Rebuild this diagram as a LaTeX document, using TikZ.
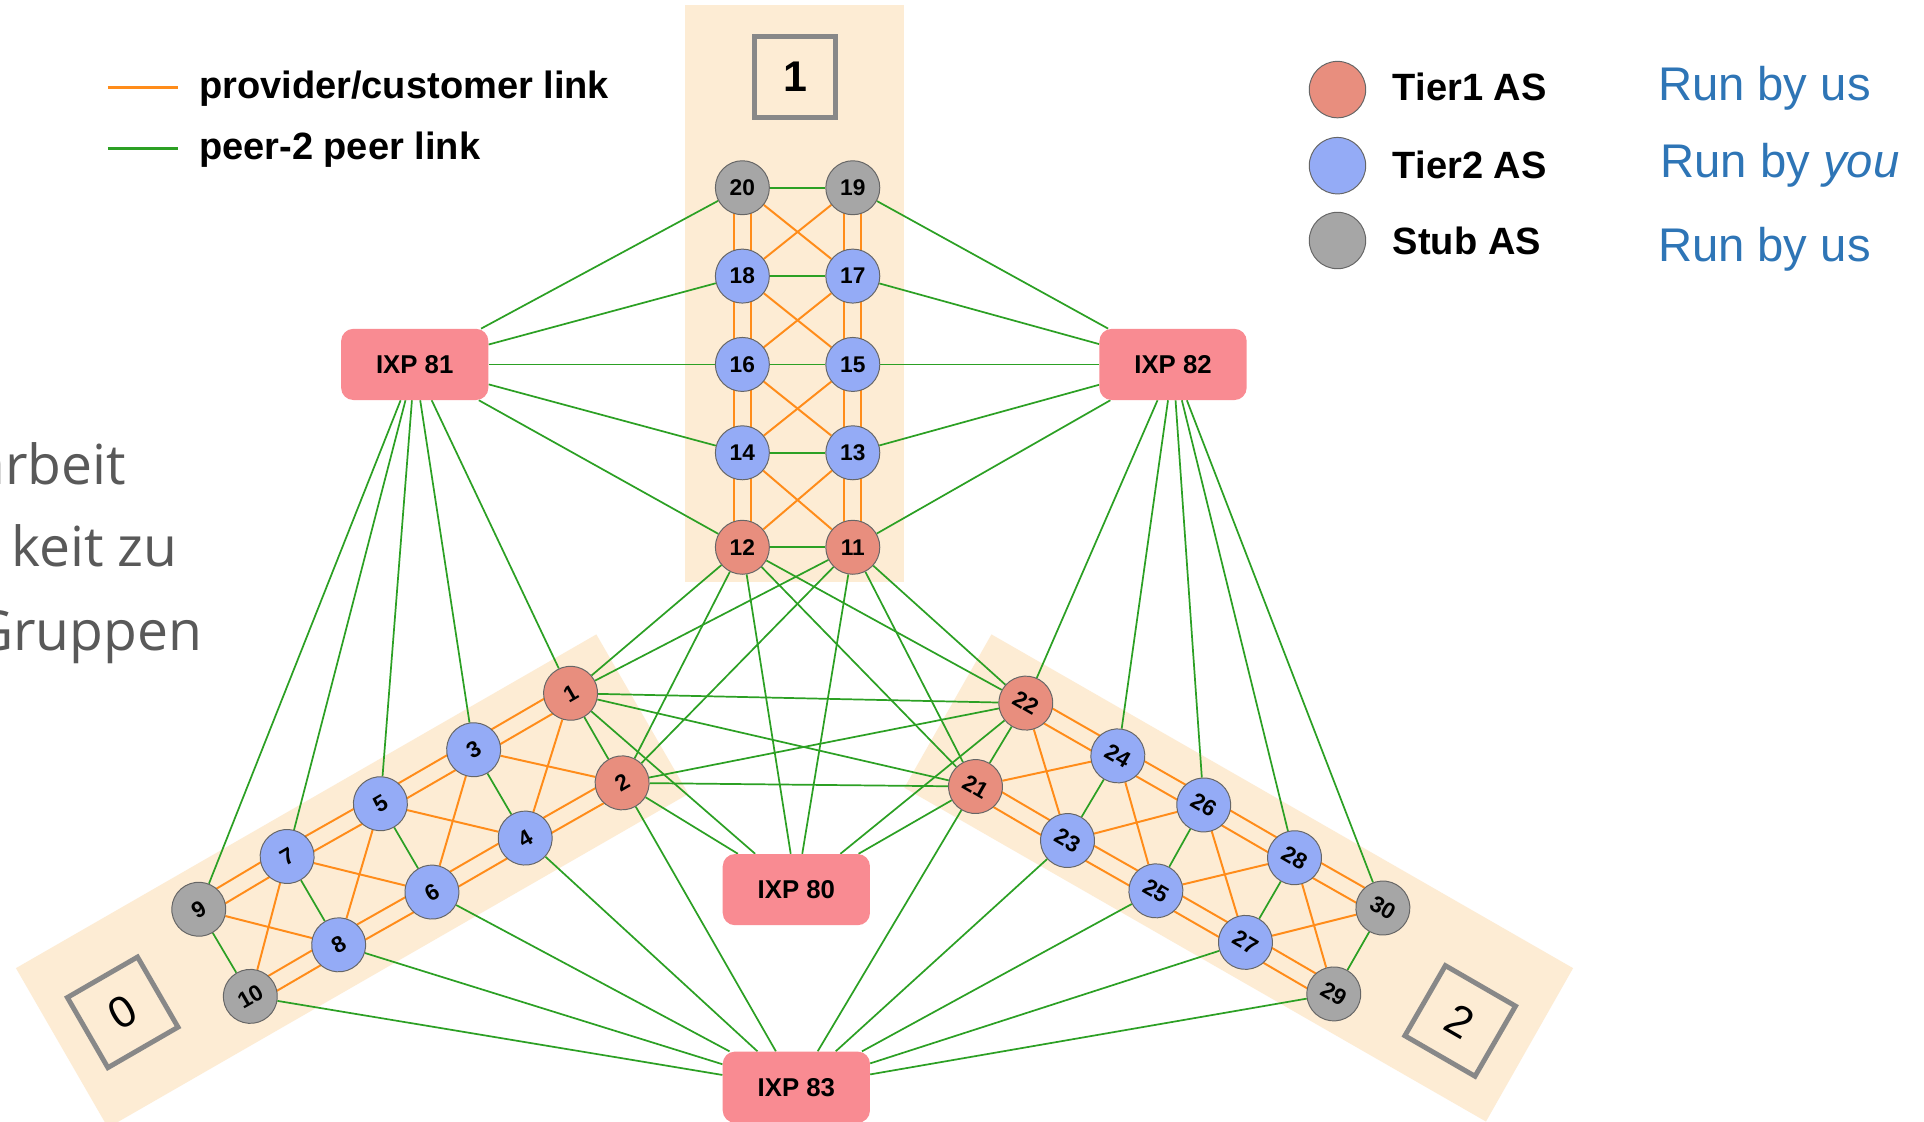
\documentclass[tikz,border=0pt]{standalone}
\usepackage{fontspec}
\setmainfont{Liberation Sans}
\newfontfamily\slidefont{Open Sans}
\usetikzlibrary{calc}
\pgfdeclarelayer{bglayer}
\pgfdeclarelayer{edgelayer}
\pgfsetlayers{bglayer,edgelayer,main}
\definecolor{peach}{RGB}{253,236,212}
\definecolor{tierone}{RGB}{232,142,126}
\definecolor{tiertwo}{RGB}{148,171,246}
\definecolor{stubgrey}{RGB}{166,166,166}
\definecolor{ixppink}{RGB}{249,139,146}
\definecolor{peergreen}{RGB}{44,160,36}
\definecolor{pcorange}{RGB}{255,140,26}
\definecolor{boxgrey}{RGB}{136,136,136}
\definecolor{runblue}{RGB}{46,117,182}
\definecolor{slidegrey}{RGB}{89,89,89}
\newcommand\dblpc[2]{%
  \draw[pc] ($(#1)!7pt!90:(#2)$) -- ($(#2)!7pt!-90:(#1)$);
  \draw[pc] ($(#1)!7pt!-90:(#2)$) -- ($(#2)!7pt!90:(#1)$);}
\begin{document}
\begin{tikzpicture}[x=1pt,y=-1pt,
  asnode/.style={circle,draw=black!60,line width=0.8pt,minimum size=44pt,inner sep=0pt,font=\fontsize{18.5}{18.5}\selectfont\bfseries},
  t1/.style={asnode,fill=tierone},
  t2/.style={asnode,fill=tiertwo},
  stub/.style={asnode,fill=stubgrey},
  ixp/.style={rectangle,rounded corners=10pt,fill=ixppink,minimum width=120pt,minimum height=58pt,inner sep=0pt,font=\fontsize{21}{21}\selectfont\bfseries},
  peer/.style={draw=peergreen,line width=1.4pt},
  pc/.style={draw=pcorange,line width=1.6pt},
  grpbox/.style={rectangle,draw=boxgrey,line width=4pt,minimum size=66pt,inner sep=0pt,font=\fontsize{36}{36}\selectfont},
  legtext/.style={anchor=west,inner sep=0pt,font=\fontsize{31}{31}\selectfont\bfseries},
  runtext/.style={anchor=west,inner sep=0pt,text=runblue,font=\fontsize{38.5}{38.5}\selectfont},
  legdot/.style={circle,draw=black!60,line width=0.8pt,minimum size=46pt,inner sep=0pt},
  slidetext/.style={anchor=base east,inner sep=0pt,text=slidegrey,font=\slidefont\fontsize{45}{45}\selectfont}
]
\useasboundingbox (0,0) rectangle (1568,914);

% ---------- backgrounds ----------
\begin{pgfonlayer}{bglayer}
\clip (0,0) rectangle (1568,914);
\fill[white] (0,0) rectangle (1568,914);
\fill[peach] (558,4) rectangle (737,474);
\fill[peach] (13,789) -- (486,517) -- (561,647) -- (88,919) -- cycle;
\fill[peach] (808,517) -- (1282,789) -- (1211,914) -- (737,642) -- cycle;
\end{pgfonlayer}

% ---------- slide text (clipped at left border) ----------
\begin{scope}
\clip (0,0) rectangle (1568,914);
\node[slidetext] (s1) at (103,395) {arbeit};
\node[slidetext] (s2) at (145,462) {keit zu};
\node[slidetext] (s3) at (165,530) {Gruppen};
\end{scope}

% ---------- legend ----------
\coordinate (la1) at (88,71);
\coordinate (la2) at (145,71);
\coordinate (lb1) at (88,121);
\coordinate (lb2) at (145,121);
\draw[pc,line width=2.5pt] (la1) -- (la2);
\draw[peer,line width=2.5pt] (lb1) -- (lb2);
\node[legtext] (lt1) at (162,72) {provider/customer link};
\node[legtext] (lt2) at (162,122) {peer-2 peer link};

\node[legdot,fill=tierone] (ld1) at (1090,73) {};
\node[legdot,fill=tiertwo] (ld2) at (1090,135) {};
\node[legdot,fill=stubgrey] (ld3) at (1090,196) {};
\node[legtext] (lr1) at (1135,71) {Tier1 AS};
\node[legtext] (lr2) at (1135,134) {Tier2 AS};
\node[legtext] (lr3) at (1135,196) {Stub AS};
\node[runtext] (r1) at (1351,72) {Run by us};
\node[runtext] (r2) at (1353,135) {Run by \textit{you}};
\node[runtext] (r3) at (1351,203) {Run by us};

% ---------- group boxes ----------
\node[grpbox,font=\fontsize{35}{35}\selectfont\bfseries] (g1) at (648,62.5) {1};
\node[grpbox,rotate=30] (g0) at (100,825) {0};
\node[grpbox,rotate=-30] (g2) at (1190,832) {2};

% ---------- AS nodes: group 1 (top) ----------
\node[stub] (n20) at (605,153) {20};
\node[stub] (n19) at (695,153) {19};
\node[t2] (n18) at (605,225) {18};
\node[t2] (n17) at (695,225) {17};
\node[t2] (n16) at (605,297) {16};
\node[t2] (n15) at (695,297) {15};
\node[t2] (n14) at (605,369) {14};
\node[t2] (n13) at (695,369) {13};
\node[t1] (n12) at (605,446) {12};
\node[t1] (n11) at (695,446) {11};

% ---------- group 0 (left) ----------
\node[t1,rotate=30] (n1) at (465,565) {1};
\node[t1,rotate=30] (n2) at (507,638) {2};
\node[t2,rotate=30] (n3) at (386,611) {3};
\node[t2,rotate=30] (n4) at (428,683) {4};
\node[t2,rotate=30] (n5) at (310,655) {5};
\node[t2,rotate=30] (n6) at (352,727) {6};
\node[t2,rotate=30] (n7) at (234,698) {7};
\node[t2,rotate=30] (n8) at (276,770) {8};
\node[stub,rotate=30] (n9) at (162,741) {9};
\node[stub,rotate=30] (n10) at (204,812) {10};

% ---------- group 2 (right) ----------
\node[t1,rotate=-30] (n22) at (836,573) {22};
\node[t1,rotate=-30] (n21) at (795,641) {21};
\node[t2,rotate=-30] (n24) at (911,616) {24};
\node[t2,rotate=-30] (n23) at (870,685) {23};
\node[t2,rotate=-30] (n26) at (981,656) {26};
\node[t2,rotate=-30] (n25) at (942,726) {25};
\node[t2,rotate=-30] (n28) at (1055,699) {28};
\node[t2,rotate=-30] (n27) at (1015,768) {27};
\node[stub,rotate=-30] (n30) at (1127,740) {30};
\node[stub,rotate=-30] (n29) at (1087,810) {29};

% ---------- IXPs ----------
\node[ixp] (x81) at (338,297) {IXP 81};
\node[ixp] (x82) at (956,297) {IXP 82};
\node[ixp] (x80) at (649,725) {IXP 80};
\node[ixp] (x83) at (649,886) {IXP 83};

% ---------- links ----------
\begin{pgfonlayer}{edgelayer}
% provider/customer: double links along columns
\foreach \a/\b in {n20/n18,n18/n16,n16/n14,n14/n12,n19/n17,n17/n15,n15/n13,n13/n11,
                   n9/n7,n7/n5,n5/n3,n3/n1,n10/n8,n8/n6,n6/n4,n4/n2,
                   n30/n28,n28/n26,n26/n24,n24/n22,n29/n27,n27/n25,n25/n23,n23/n21}
  {\dblpc{\a}{\b}}
% provider/customer: crossing links
\foreach \a/\b in {n20/n17,n19/n18,n18/n15,n17/n16,n16/n13,n15/n14,n14/n11,n13/n12,
                   n9/n8,n10/n7,n7/n6,n8/n5,n5/n4,n6/n3,n3/n2,n4/n1,
                   n30/n27,n29/n28,n28/n25,n27/n26,n26/n23,n25/n24,n24/n21,n23/n22}
  {\draw[pc] (\a) -- (\b);}
% peer links inside groups
\foreach \a/\b in {n20/n19,n18/n17,n16/n15,n14/n13,n12/n11,
                   n9/n10,n7/n8,n5/n6,n3/n4,n1/n2,
                   n30/n29,n28/n27,n26/n25,n24/n23,n22/n21}
  {\draw[peer] (\a) -- (\b);}
% peer links between Tier1 ASes
\foreach \a/\b in {n1/n11,n1/n12,n2/n11,n2/n12,n21/n11,n21/n12,n22/n11,n22/n12,
                   n1/n21,n1/n22,n2/n21,n2/n22}
  {\draw[peer] (\a) -- (\b);}
% IXP links
\foreach \b in {n1,n2,n11,n12,n21,n22} {\draw[peer] (x80) -- (\b);}
\foreach \b in {n20,n18,n16,n14,n12,n9,n7,n5,n3,n1} {\draw[peer] (x81) -- (\b);}
\foreach \b in {n19,n17,n15,n13,n11,n30,n28,n26,n24,n22} {\draw[peer] (x82) -- (\b);}
\foreach \b in {n10,n8,n6,n4,n2,n29,n27,n25,n23,n21} {\draw[peer] (x83) -- (\b);}
\end{pgfonlayer}
\end{tikzpicture}
\end{document}
